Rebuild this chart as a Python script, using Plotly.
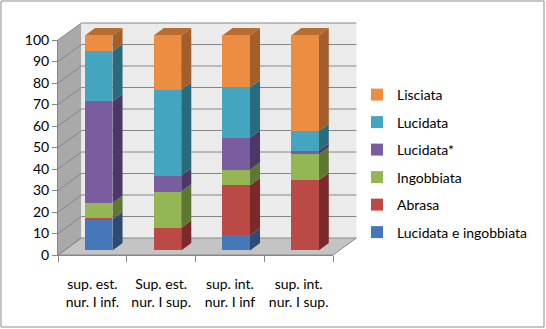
import plotly.graph_objects as go

# ---- data -------------------------------------------------------------
categories = ["sup. est.<br>nur. I inf.", "Sup. est.<br>nur. I sup.",
              "sup. int.<br>nur. I inf", "sup. int.<br>nur. I sup."]

lucidata_e_ingobbiata = [14.4, 0.0, 7.0, 0.0]
abrasa = [0.5, 10.5, 23.3, 32.6]
ingobbiata = [7.1, 16.9, 7.2, 12.1]
lucidata_star = [47.3, 7.4, 15.0, 1.6]
lucidata = [23.3, 40.0, 23.3, 9.1]
lisciata = [7.4, 25.2, 24.2, 44.6]

series_names = ["Lucidata e ingobbiata", "Abrasa", "Ingobbiata",
                "Lucidata*", "Lucidata", "Lisciata"]
series_values = [lucidata_e_ingobbiata, abrasa, ingobbiata,
                 lucidata_star, lucidata, lisciata]
front_colors = ["#4677b8", "#bb4a46", "#94b655", "#7a5d9e", "#44a5c0", "#ec8d42"]
side_colors = ["#2c4b76", "#7a2b29", "#5e7733", "#4b3866", "#286b7d", "#a35f2b"]
top_colors = ["#36598c", "#93403c", "#738f41", "#5c477c", "#2f8299", "#b86c30"]

y_ticks = list(range(0, 101, 10))

# ---- layout geometry (pixels of the 546x329 page) ----------------------
W, H = 546, 329
FONT = "Lato"
PX_U0 = 92.4        # x of first category centre on the front plane
PX_PER_U = 68.75    # pixels per category
PY_V0 = 255.0       # y of value 0 on the front plane
PX_PER_V = 2.15     # pixels per value unit
DEPTH_X, DEPTH_Y = 23.4, 17.0   # front plane -> back wall offset (right, up)
D_FRONT, D_BACK = 0.27, 0.70    # bar front / back depth fractions
BAR_W = 0.40
V_MAX = 100

# main (bar-plane) subplot area in pixels
PA_X0, PA_X1, PA_Y0, PA_Y1 = 40.0, 372.0, 10.0, 270.0


def u_from_px(px):
    return (px - PX_U0 - DEPTH_X * D_FRONT) / PX_PER_U


def v_from_py(py):
    return (PY_V0 - DEPTH_Y * D_FRONT - py) / PX_PER_V


def proj(u, v, d):
    """3D point (category, value, depth) -> bar-plane data coordinates."""
    return (u + (d - D_FRONT) * DEPTH_X / PX_PER_U,
            v + (d - D_FRONT) * DEPTH_Y / PX_PER_V)


def poly(points):
    pts = [proj(*p) for p in points]
    return "M " + " L ".join(f"{x:.5f},{y:.5f}" for x, y in pts) + " Z"


shapes = []


def add_poly(points, fill, line_color=None, width=0):
    shapes.append(dict(type="path", xref="x", yref="y", layer="below",
                       path=poly(points), fillcolor=fill,
                       line=dict(color=line_color or fill, width=width)))


def add_line(p0, p1, color="#868686", width=1):
    (x0, y0), (x1, y1) = proj(*p0), proj(*p1)
    shapes.append(dict(type="line", xref="x", yref="y", layer="below",
                       x0=x0, y0=y0, x1=x1, y1=y1,
                       line=dict(color=color, width=width)))


n = len(categories)
uL, uR = -0.5, n - 0.5

# walls and floor
add_poly([(uL, 0, 0), (uL, 0, 1), (uL, V_MAX, 1), (uL, V_MAX, 0)], "#a9a9a9")
add_poly([(uL, 0, 1), (uR, 0, 1), (uR, V_MAX, 1), (uL, V_MAX, 1)], "#ebebeb")
add_poly([(uL, 0, 0), (uR, 0, 0), (uR, 0, 1), (uL, 0, 1)], "#c4c4c4", "#8a8a8a", 1)

# gridlines on back wall and side wall
for v in y_ticks:
    if v > 0:
        add_line((uL, v, 1), (uR, v, 1))
    add_line((uL, v, 0), (uL, v, 1))

# side and top faces of the stacked columns
for i in range(n):
    base = 0.0
    ul, ur = i - BAR_W / 2, i + BAR_W / 2
    for s, vals in enumerate(series_values):
        val = vals[i]
        if val <= 0:
            continue
        top = base + val
        add_poly([(ur, base, D_FRONT), (ur, base, D_BACK),
                  (ur, top, D_BACK), (ur, top, D_FRONT)], side_colors[s])
        base = top
    # top face takes the colour of the highest non-empty series
    top_s = max(s for s, vals in enumerate(series_values) if vals[i] > 0)
    add_poly([(ul, base, D_FRONT), (ur, base, D_FRONT),
              (ur, base, D_BACK), (ul, base, D_BACK)], top_colors[top_s])

# outer border of the chart
shapes.append(dict(type="rect", xref="paper", yref="paper",
                   x0=1 / W, x1=(W - 2) / W, y0=2 / H, y1=1 - 1 / H,
                   line=dict(color="#8c8c8c", width=1), fillcolor="rgba(0,0,0,0)",
                   layer="above"))

fig = go.Figure()
x_pos = list(range(n))
for s, (name, vals) in enumerate(zip(series_names, series_values)):
    fig.add_trace(go.Bar(x=x_pos, y=vals, name=name, width=BAR_W,
                         marker=dict(color=front_colors[s], line=dict(width=0)),
                         legendgroup=name, legendrank=1000 - s,
                         xaxis="x", yaxis="y"))

# front-plane axes carry the tick labels
fig.add_trace(go.Scatter(x=categories, y=[None] * n, xaxis="x2", yaxis="y2",
                         showlegend=False, hoverinfo="skip", mode="markers"))

fx0 = PX_U0 - 0.5 * PX_PER_U
fx1 = PX_U0 + (n - 0.5) * PX_PER_U
fy_top = PY_V0 - V_MAX * PX_PER_V

fig.update_layout(
    template="none",
    width=W, height=H, autosize=False,
    margin=dict(l=0, r=0, t=0, b=0, pad=0, autoexpand=False),
    paper_bgcolor="white", plot_bgcolor="rgba(0,0,0,0)",
    barmode="stack", bargap=0,
    font=dict(family=FONT, size=14, color="#000000"),
    shapes=shapes,
    showlegend=True,
    xaxis=dict(domain=[PA_X0 / W, PA_X1 / W],
               range=[u_from_px(PA_X0), u_from_px(PA_X1)],
               visible=False, fixedrange=True, automargin=False),
    yaxis=dict(domain=[1 - PA_Y1 / H, 1 - PA_Y0 / H],
               range=[v_from_py(PA_Y1), v_from_py(PA_Y0)],
               visible=False, fixedrange=True, automargin=False),
    xaxis2=dict(domain=[fx0 / W, fx1 / W], anchor="y2", type="category",
                range=[-0.5, n - 0.5], tickson="boundaries",
                ticks="outside", ticklen=6, tickcolor="#868686",
                showline=True, linecolor="#868686", linewidth=1,
                showgrid=False, zeroline=False, ticklabelstandoff=16,
                automargin=False,
                tickfont=dict(family=FONT, size=14, color="#000000")),
    yaxis2=dict(domain=[1 - PY_V0 / H, 1 - fy_top / H], anchor="x2",
                range=[0, V_MAX], tickvals=y_ticks,
                ticks="outside", ticklen=5, tickcolor="#868686",
                showline=True, linecolor="#868686", linewidth=1,
                showgrid=False, zeroline=False, automargin=False,
                tickfont=dict(family=FONT, size=14, color="#000000")),
    legend=dict(x=357 / W, y=1 - 79 / H, xanchor="left", yanchor="top",
                traceorder="grouped", tracegroupgap=6.3,
                font=dict(family=FONT, size=14, color="#000000"),
                bgcolor="rgba(0,0,0,0)", borderwidth=0),
)

fig.write_html("out.html")
